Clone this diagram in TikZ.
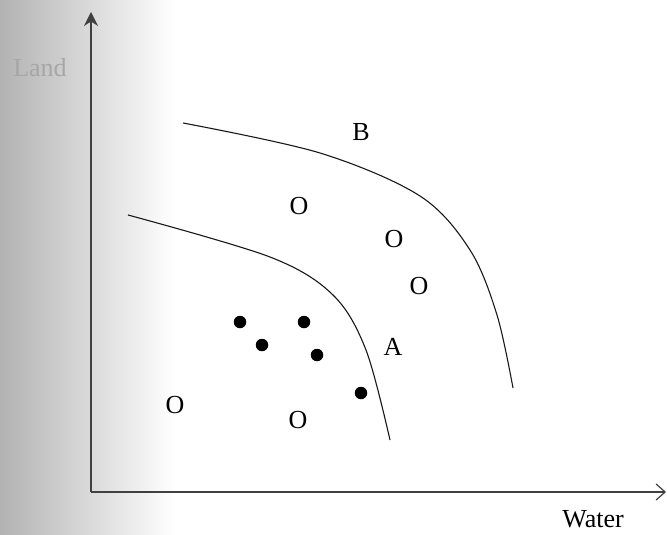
\documentclass[tikz,border=0pt]{standalone}
\usepackage{fontspec}
\setmainfont{Liberation Serif}
\usetikzlibrary{arrows.meta}
\begin{document}
\begin{tikzpicture}[x=1pt,y=-1pt,
  lbl/.style={font=\fontsize{26}{30}\selectfont, inner sep=0pt},
  dotmark/.style={circle, fill=black, minimum size=12.5pt, inner sep=0pt},
  axis/.style={line width=1.2pt, draw=black!75},
  curve/.style={line width=1.1pt, draw=black!90}]
\useasboundingbox (0,0) rectangle (667,535);
% scan shading on the left edge
\shade[left color=black!30, right color=white, draw=none] (0,0) rectangle (175,535);
\fill[white] (175,0) rectangle (667,535);
% axes
\coordinate (O) at (91,492);
\coordinate (ytip) at (91,12);
\coordinate (xtip) at (666,492);
\draw[axis, -{Stealth[length=14pt,width=14pt]}] (O) -- (ytip);
\draw[axis, -{Straight Barb[length=9pt,width=16pt]}] (O) -- (xtip);
\node[lbl, text=black!35] (land) at (40,68) {Land};
\node[lbl] (water) at (593,519) {Water};
% curves
\draw[curve] plot[smooth, tension=0.55] coordinates {(183,123) (320,153) (420,196) (470,250) (497,315) (513,388)};
\draw[curve] plot[smooth, tension=0.55] coordinates {(128,215) (270,257) (333,295) (366,350) (390,440)};
% labels
\node[lbl] (B) at (361,132) {B};
\node[lbl] (A) at (393,347) {A};
\node[lbl] (o1) at (299,206) {O};
\node[lbl] (o2) at (394,239) {O};
\node[lbl] (o3) at (419,286) {O};
\node[lbl] (o4) at (175,405) {O};
\node[lbl] (o5) at (298,420) {O};
% dots
\node[dotmark] (d1) at (240,322) {};
\node[dotmark] (d2) at (304,322) {};
\node[dotmark] (d3) at (262,345) {};
\node[dotmark] (d4) at (317,355) {};
\node[dotmark] (d5) at (361,393) {};
\end{tikzpicture}
\end{document}
